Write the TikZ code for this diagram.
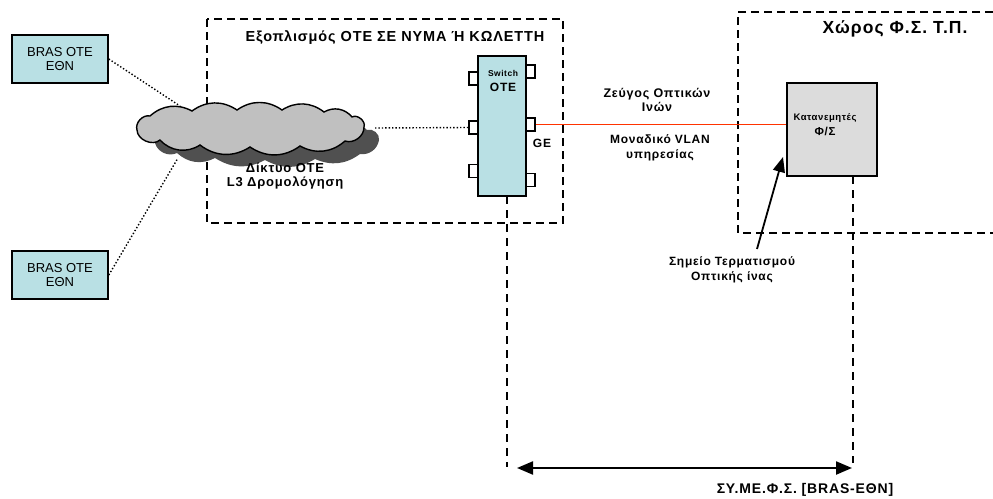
\documentclass[tikz,border=0pt]{standalone}
\usepackage{fontspec}
\setmainfont{Liberation Sans}
\newfontfamily\widefont[LetterSpace=6]{Liberation Sans}
\usetikzlibrary{arrows.meta}

\definecolor{brascyan}{RGB}{185,224,228}
\definecolor{cloudgray}{RGB}{192,192,192}
\definecolor{shadowgray}{RGB}{80,80,80}
\definecolor{katgray}{RGB}{220,220,220}
\definecolor{fiberred}{RGB}{255,51,0}

\tikzset{
  brasbox/.style={draw, line width=1.6pt, fill=brascyan, minimum width=96pt,
    minimum height=48pt, align=center, font=\fontsize{13}{14}\selectfont},
  portbox/.style={draw, line width=1.4pt, fill=white, minimum width=9pt,
    minimum height=13pt, inner sep=0pt},
  zonebox/.style={line width=1.6pt, dash pattern=on 8pt off 5pt},
  dropline/.style={line width=1.3pt, dash pattern=on 8pt off 6pt},
  lbl/.style={font=\widefont\bfseries\fontsize{12}{14.5}\selectfont, align=center}
}

\begin{document}
\begin{tikzpicture}[x=1pt, y=-1pt]
\useasboundingbox (0,0) rectangle (993,498);

% zones
\draw[zonebox] (207,19) rectangle (563,223);
\draw[zonebox] (993,12) -- (738,12) -- (738,233) -- (993,233);
\node[font=\widefont\bfseries\fontsize{14.5}{16}\selectfont] (zoneote) at (395,38) {Εξοπλισμός ΟΤΕ ΣΕ ΝΥΜΑ Ή ΚΩΛΕΤΤΗ};
\node[font=\widefont\bfseries\fontsize{17.5}{19}\selectfont] (zonefs) at (895,29) {Χώρος Φ.Σ. Τ.Π.};

% BRAS
\node[brasbox] (bras1) at (60,59) {BRAS OTE\\ΕΘΝ};
\node[brasbox] (bras2) at (60,275) {BRAS OTE\\ΕΘΝ};

% cloud, shadow first
\fill[shadowgray, shift={(15,12)}] (140,131) to[bend left=50] (152,117) to[bend left=30] (195,112)
  to[bend left=30] (240,111) to[bend left=30] (285,111) to[bend left=30] (325,113)
  to[bend left=35] (352,118) to[bend left=60] (364,128) to[bend left=45] (345,142)
  to[bend left=30] (300,147) to[bend left=30] (250,148) to[bend left=30] (200,146)
  to[bend left=35] (162,141) to[bend left=50] cycle;
\draw[line width=1.4pt, fill=cloudgray] (137,130) to[bend left=60] (150,116) to[bend left=35] (192,111)
  to[bend left=35] (237,110) to[bend left=35] (282,110) to[bend left=35] (324,112)
  to[bend left=40] (352,117) to[bend left=70] (364,127) to[bend left=55] (345,141)
  to[bend left=35] (300,146) to[bend left=35] (250,147) to[bend left=35] (200,145)
  to[bend left=40] (160,140) to[bend left=65] cycle;
\node[lbl, font=\widefont\bfseries\fontsize{13}{14.5}\selectfont] (cloudlbl) at (285,176) {Δίκτυο ΟΤΕ\\L3 Δρομολόγηση};
\coordinate (cloudtop) at (180,106);
\coordinate (cloudbot) at (178,158);
\coordinate (cloudeast) at (375,128);

% switch
\node[draw, line width=1.6pt, fill=brascyan, minimum width=48pt, minimum height=140pt]
  (switch) at (502,126) {};
\node[font=\widefont\bfseries\fontsize{12}{15}\selectfont, align=center] (swlbl) at (503,81)
  {{\fontsize{8.5}{10}\selectfont Switch}\\OTE};
\node[portbox] (swl1) at (473.5,78.5) {};
\node[portbox] (swl2) at (473.5,127.5) {};
\node[portbox] (swl3) at (473.5,171) {};
\node[portbox] (swr1) at (530.5,71.5) {};
\node[portbox] (swr2) at (530.5,124.5) {};
\node[portbox] (swr3) at (530.5,180) {};
\node[lbl] (ge) at (542,143) {GE};
\coordinate (swbot) at (507,196);

% distributor
\node[draw, line width=1.6pt, fill=katgray, minimum width=90pt, minimum height=93pt]
  (kat) at (832,129.5) {};
\node[font=\widefont\bfseries\fontsize{11.5}{15}\selectfont, align=center] (katlbl) at (825,125)
  {{\fontsize{9.5}{10}\selectfont Κατανεμητές}\\Φ/Σ};
\coordinate (katbot) at (853,176);

% links
\draw[dotted, line width=1.4pt] (bras1.east) -- (cloudtop);
\draw[dotted, line width=1.4pt] (bras2.east) -- (cloudbot);
\draw[dotted, line width=1.4pt] (cloudeast) -- (swl2.west);
\draw[fiberred, line width=1.8pt] (swr2.east) -- (kat.west |- swr2.east);
\node[lbl, font=\widefont\bfseries\fontsize{12.5}{13.5}\selectfont] (fiberlbl) at (657,100) {Ζεύγος Οπτικών\\Ινών};
\node[lbl] (vlanlbl) at (660,148) {Μοναδικό VLAN\\υπηρεσίας};

% termination point
\coordinate (termtail) at (757,249);
\coordinate (termtip) at (783,157);
\draw[line width=1.8pt, -{Triangle[length=15pt, width=12pt]}] (termtail) -- (termtip);
\node[lbl] (termlbl) at (732,270) {Σημείο Τερματισμού\\Οπτικής ίνας};

% span
\coordinate (spanl) at (507,467);
\coordinate (spanr) at (853,463);
\draw[dropline] (swbot) -- (spanl);
\draw[dropline] (katbot) -- (spanr);
\draw[line width=2.2pt, {Triangle[length=16pt, width=13pt]}-{Triangle[length=16pt, width=13pt]}]
  (517,468) -- (852,468);
\node[lbl, font=\widefont\bfseries\fontsize{14}{16}\selectfont] (spanlbl) at (805,490) {ΣΥ.ΜΕ.Φ.Σ. [BRAS-ΕΘΝ]};
\end{tikzpicture}
\end{document}
